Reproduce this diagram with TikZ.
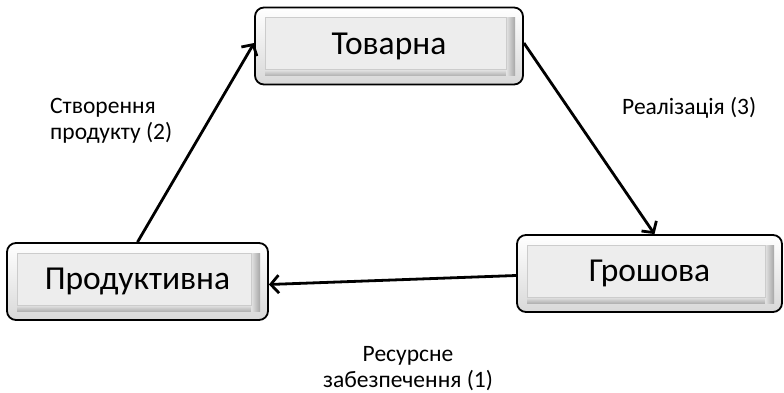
\documentclass[tikz,border=0pt]{standalone}
\usepackage{fontspec}
\setmainfont{Carlito}
\usetikzlibrary{calc,arrows.meta}
\begin{document}
\begin{tikzpicture}[x=1pt,y=1pt,
  stagebox/.style={rounded corners=9pt, draw=black, line width=1.8pt,
    top color=white, bottom color=gray!30,
    minimum width=#1, minimum height=77pt, inner sep=0pt,
    font=\fontsize{33.5}{40}\selectfont,
    path picture={
      \begin{scope}[sharp corners]
      \shade[left color=gray!20, right color=gray!70] ($(path picture bounding box.north east)+(-17,-10)$) rectangle ($(path picture bounding box.south east)+(-8,9)$);
      \shade[top color=gray!20, bottom color=gray!60] ($(path picture bounding box.south west)+(10,15)$) rectangle ($(path picture bounding box.south east)+(-17,9)$);
      \fill[gray!14] ($(path picture bounding box.north west)+(10,-10)$) rectangle ($(path picture bounding box.south east)+(-17,15)$);
      \draw[gray!40, line width=0.6pt] ($(path picture bounding box.north west)+(10,-10)$) rectangle ($(path picture bounding box.south east)+(-17,15)$);
      \end{scope}
    }},
  flow/.style={line width=2.8pt, -{Straight Barb[length=8pt,width=18pt,line width=2.8pt]}},
  lbl/.style={font=\fontsize{23.5}{26}\selectfont, inner sep=0pt}
]
\useasboundingbox (0,0) rectangle (784,-393);
\node[stagebox=268pt] (tov) at (389,-46) {\raisebox{-2.5pt}{Товарна}};
\node[stagebox=261pt] (prod) at (137.5,-281.5) {\raisebox{-2.5pt}{Продуктивна}};
\node[stagebox=265pt] (grosh) at (649.5,-273.5) {\raisebox{-2.5pt}{Грошова}};

\draw[flow] (prod.north) -- ($(tov.west)+(0,3)$);
\draw[flow] ($(tov.east)+(0,3)$) -- ($(grosh.north)+(5,0)$);
\draw[flow] ($(grosh.west)+(0,-2)$) -- ($(prod.east)+(0,-3)$);

\node[lbl, align=left, anchor=west] (l2) at (50,-121) {Створення\\продукту (2)};
\node[lbl, anchor=west] (l3) at (622,-108) {Реалізація (3)};
\node[lbl, align=center] (l1) at (408,-369) {Ресурсне\\забезпечення (1)};
\end{tikzpicture}
\end{document}
